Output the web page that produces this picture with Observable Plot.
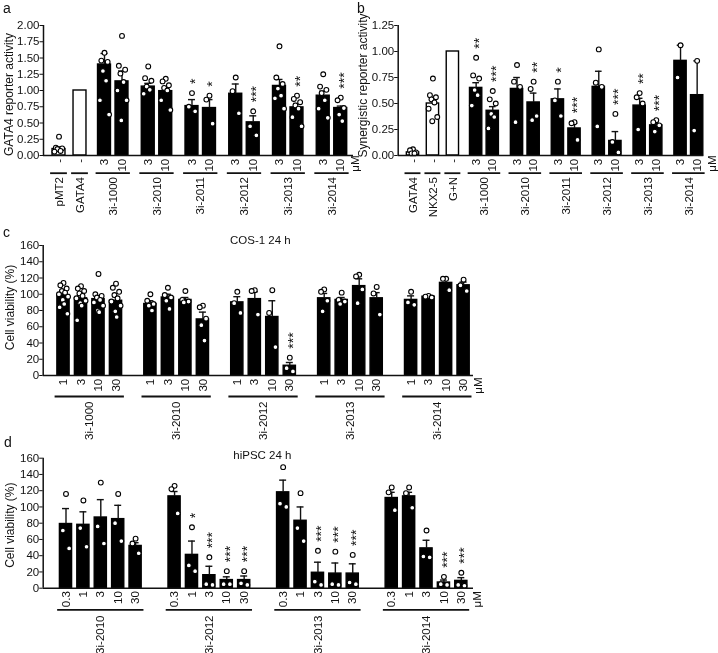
<!DOCTYPE html>
<html>
<head>
<meta charset="utf-8">
<script src="https://cdn.jsdelivr.net/npm/d3@7"></script>
<script src="https://cdn.jsdelivr.net/npm/@observablehq/plot@0.6"></script>
<style>
  body { margin: 0; background: #fff; }
  /* the figure is monochrome; keep the text antialiasing grey as well */
  #fig { position: relative; width: 718px; height: 653px; overflow: hidden; filter: grayscale(1);
         font-family: "Liberation Sans", Arial, sans-serif; color: #111; }
</style>
</head>
<body>
<div id="fig"></div>
<script>
// ---------- a: GATA4 reporter activity ----------
const aGroups = ["pMT2", "GATA4", "3i-1000", "3i-2010", "3i-2011", "3i-2012", "3i-2013", "3i-2014"];
const aDoses = [["-"], ["-"], ["3", "10"], ["3", "10"], ["3", "10"], ["3", "10"], ["3", "10"], ["3", "10"]];
const aMeans = [[0.10], [1.00], [1.40, 1.14], [1.06, 0.99], [0.76, 0.73], [0.95, 0.51], [1.07, 0.74], [0.92, 0.73]];
const aSem = [[0.03], [0], [0.17, 0.16], [0.05, 0.05], [0.10, 0.13], [0.15, 0.10], [0.10, 0.06], [0.07, 0.03]];
const aPoints = [
  [[0.29, 0.12, 0.11, 0.10, 0.07, 0.06]],
  [[]],
  [[1.58, 1.46, 1.44, 1.30, 1.15, 0.85, 0.63], [1.84, 1.38, 1.32, 1.26, 1.13, 1.00, 0.85, 0.54]],
  [[1.37, 1.19, 1.15, 1.06, 1.01, 0.95], [1.18, 1.14, 1.08, 1.04, 1.00, 0.85, 0.70]],
  [[0.96, 0.75, 0.68], [0.92, 0.86, 0.49]],
  [[1.20, 0.99, 0.65], [0.68, 0.45, 0.31]],
  [[1.68, 1.20, 1.10, 1.03, 0.92, 0.88, 0.72], [0.92, 0.87, 0.82, 0.77, 0.72, 0.59, 0.45]],
  [[1.25, 1.06, 1.01, 0.96, 0.85, 0.72, 0.58], [0.89, 0.85, 0.73, 0.63, 0.53]]
];
const aStars = [[""], [""], ["", ""], ["", ""], ["*", "*"], ["", "***"], ["", "**"], ["", "***"]];
const aTicks = [0, 0.25, 0.5, 0.75, 1, 1.25, 1.5, 1.75, 2];

// ---------- b: synergistic GATA4 + NKX2-5 reporter activity ----------
const bGroups = ["GATA4", "NKX2-5", "G+N", "3i-1000", "3i-2010", "3i-2011", "3i-2012", "3i-2013", "3i-2014"];
const bDoses = [["-"], ["-"], ["-"], ["3", "10"], ["3", "10"], ["3", "10"], ["3", "10"], ["3", "10"], ["3", "10"]];
const bMeans = [[0.03], [0.50], [1.00], [0.65, 0.43], [0.64, 0.51], [0.54, 0.26], [0.66, 0.14], [0.48, 0.29], [0.91, 0.58]];
const bSem = [[0.01], [0.04], [0], [0.05, 0.04], [0.11, 0.09], [0.10, 0.05], [0.15, 0.09], [0.07, 0.02], [0.15, 0.33]];
const bPoints = [
  [[0.06, 0.05, 0.03, 0.02, 0.02]],
  [[0.74, 0.58, 0.56, 0.54, 0.51, 0.45, 0.37, 0.33]],
  [[]],
  [[0.94, 0.77, 0.74, 0.63, 0.58, 0.48], [0.62, 0.54, 0.50, 0.40, 0.37, 0.26]],
  [[0.87, 0.71, 0.66, 0.32], [0.71, 0.64, 0.38, 0.34]],
  [[0.71, 0.53, 0.38], [0.32, 0.31, 0.15]],
  [[1.02, 0.70, 0.66, 0.28], [0.40, 0.13, 0.03]],
  [[0.60, 0.56, 0.50, 0.25], [0.34, 0.32, 0.29, 0.23]],
  [[1.06, 0.75], [0.91, 0.24]]
];
const bStars = [[""], [""], [""], ["**", "***"], ["", "**"], ["*", "***"], ["", "***"], ["**", "***"], ["", ""]];
const bTicks = [0, 0.25, 0.5, 0.75, 1, 1.25];

// ---------- c: COS-1 cell viability, 24 h ----------
const cGroups = ["3i-1000", "3i-2010", "3i-2012", "3i-2013", "3i-2014"];
const cDoseSet = ["1", "3", "10", "30"];
const cMeans = [[99, 95, 94, 92], [88, 96, 93, 69], [90, 94, 72, 12], [95, 93, 110, 95], [93, 97, 114, 111]];
const cSem = [[3, 4, 4, 5], [4, 4, 3, 9], [7, 9, 20, 4], [6, 3, 9, 7], [5, 1, 5, 4]];
const cPoints = [
  [[114, 111, 107, 104, 102, 100, 97, 93, 88, 84, 76], [110, 107, 104, 101, 98, 95, 92, 89, 86, 68],
   [125, 100, 98, 96, 93, 90, 86, 80, 78], [113, 108, 103, 99, 95, 91, 86, 79, 72]],
  [[100, 92, 88, 86, 80], [108, 99, 96, 92, 82], [104, 93, 91, 90], [86, 84, 70, 62, 43]],
  [[103, 89, 77], [105, 104, 75], [105, 77, 35], [22, 9, 5]],
  [[106, 103, 92, 79], [102, 93, 91, 88], [124, 122, 106, 89], [109, 101, 75]],
  [[103, 90, 87], [98, 97, 96], [119, 119, 105], [118, 111, 104]]
];
const cStars = [["", "", "", ""], ["", "", "", ""], ["", "", "", "***"], ["", "", "", ""], ["", "", "", ""]];

// ---------- d: hiPSC cell viability, 24 h ----------
const dGroups = ["3i-2010", "3i-2012", "3i-2013", "3i-2014"];
const dDoseSet = ["0.3", "1", "3", "10", "30"];
const dMeans = [[79, 78, 87, 85, 52], [113, 41, 16, 10, 10], [118, 83, 19, 18, 18], [111, 113, 49, 7, 9]];
const dSem = [[19, 16, 22, 17, 4], [6, 17, 11, 4, 5], [15, 17, 13, 13, 12], [7, 5, 10, 3, 4]];
const dPoints = [
  [[116, 71, 49], [108, 74, 51], [130, 76, 55], [116, 80, 58], [61, 55, 43]],
  [[126, 122, 92], [75, 28, 21], [38, 5, 4], [21, 5, 5], [21, 6, 4]],
  [[149, 104, 100], [117, 74, 58], [46, 8, 4], [45, 5, 4], [41, 7, 5]],
  [[124, 118, 96], [124, 117, 99], [71, 39, 38], [14, 5, 4], [19, 4, 3]]
];
const dStars = [["", "", "", "", ""], ["", "*", "***", "***", "***"], ["", "", "***", "***", "***"], ["", "", "", "***", "***"]];
const viabilityTicks = [0, 20, 40, 60, 80, 100, 120, 140, 160];

// horizontal offsets (in bar steps) for the replicate dots of one bar
const spread = [0, -0.18, 0.18, -0.09, 0.09, -0.26, 0.26, -0.04, 0.04, -0.22, 0.22, -0.13, 0.13];

// Lay the bars out along x: one step per bar, an extra gap between groups.
function build(groups, doses, means, sem, points, stars, nControls, gaps) {
  const bars = [], dots = [], spans = [];
  let cursor = 0;
  groups.forEach((name, gi) => {
    if (gi > 0) cursor += 1 + (gi < nControls ? gaps.control : gi === nControls ? gaps.first : gaps.group);
    const first = cursor;
    doses[gi].forEach((dose, di) => {
      if (di > 0) cursor += 1;
      const pos = cursor;
      const pts = points[gi][di];
      const mean = means[gi][di], err = sem[gi][di];
      bars.push({group: name, dose, pos, mean, err, open: gi < nControls,
                 star: stars[gi][di], peak: Math.max(mean + err, ...pts)});
      [...pts].sort((p, q) => q - p)
        .forEach((v, k) => dots.push({x: pos + spread[k % spread.length], value: v}));
    });
    spans.push({name, first, last: cursor});
  });
  return {bars, dots, spans};
}

const fig = document.getElementById("fig");
const FONT = "Liberation Sans, Arial, Helvetica, sans-serif";

function panel(cfg) {
  const {bars, dots, spans} = cfg.data;
  const bw = cfg.barWidth, cap = 0.2, half = 0.48, sw = 1.4;
  const [, ymax] = cfg.yDomain;
  const xmin = cfg.xDomain[0];
  const marks = [
    Plot.rectY(bars, {x1: d => d.pos - bw / 2, x2: d => d.pos + bw / 2, y1: 0, y2: "mean",
                      fill: d => d.open ? "white" : "black", stroke: "black", strokeWidth: sw}),
    Plot.ruleX(bars.filter(d => d.err > 0), {x: "pos", y1: "mean", y2: d => d.mean + d.err, strokeWidth: sw}),
    Plot.ruleY(bars.filter(d => d.err > 0), {y: d => d.mean + d.err, x1: d => d.pos - cap, x2: d => d.pos + cap, strokeWidth: sw}),
    Plot.dot(dots, {x: "x", y: "value", r: 2.4, fill: "white", stroke: "black", strokeWidth: 1.1}),
    // significance marks, stacked upward above the highest replicate
    Plot.text(bars.filter(d => d.star), {x: "pos", y: "peak", text: "star", rotate: -90, textAnchor: "start",
                                         lineAnchor: "middle", fontSize: 14, dx: 3.5, dy: -9, fill: "#111"}),
    Plot.ruleY([0], {strokeWidth: 1.6}),
    Plot.ruleX([xmin], {y1: 0, y2: ymax, strokeWidth: 1.5}),
    Plot.text(bars, {x: "pos", y: 0, text: "dose", rotate: -90, textAnchor: "end", lineAnchor: "middle", dy: cfg.doseDy}),
    Plot.ruleY(spans, {y: 0, x1: d => d.first - half, x2: d => d.last + half, dy: cfg.lineDy, strokeWidth: 1.8}),
    Plot.text(spans, {x: d => (d.first + d.last) / 2, y: 0, text: "name", rotate: -90, textAnchor: "end",
                      lineAnchor: "middle", dy: cfg.nameDy}),
    Plot.text(["μM"], {text: d => d, frameAnchor: "bottom-right", rotate: -90, textAnchor: "end",
                       lineAnchor: "middle", dx: cfg.unitDx, dy: cfg.unitDy}),
    Plot.text([cfg.yLabel], {text: d => d, frameAnchor: "left", rotate: -90, textAnchor: "middle",
                             lineAnchor: "middle", fontSize: 12, dx: cfg.labelDx, dy: cfg.labelDy})
  ];
  if (cfg.title) marks.push(Plot.text([cfg.title], {text: d => d, frameAnchor: "top", textAnchor: "middle",
                                                    lineAnchor: "middle", dx: cfg.titleDx, dy: cfg.titleDy}));
  const svg = Plot.plot({
    width: cfg.width, height: cfg.height,
    marginTop: cfg.margin[0], marginRight: cfg.margin[1], marginBottom: cfg.margin[2], marginLeft: cfg.margin[3],
    x: {domain: cfg.xDomain, axis: null},
    y: {domain: cfg.yDomain, ticks: cfg.ticks, tickFormat: cfg.tickFormat, tickSize: 3.5, tickPadding: 0.5, label: null},
    style: {background: "transparent", fontFamily: FONT, fontSize: "11.5px", color: "#111", overflow: "visible"},
    marks
  });
  svg.style.position = "absolute";
  svg.style.left = cfg.left + "px";
  svg.style.top = cfg.top + "px";
  fig.appendChild(svg);
}

panel({
  data: build(aGroups, aDoses, aMeans, aSem, aPoints, aStars, 2, {control: 0.2, first: 0.4, group: 0.5}),
  left: 0, top: 0, width: 365, height: 225, margin: [25, 12, 70, 43],
  xDomain: [-0.886, 16.83], yDomain: [0, 2], ticks: aTicks, tickFormat: ".2f", barWidth: 0.74,
  doseDy: 3.3, lineDy: 17.7, nameDy: 21.5, unitDx: 2, unitDy: 0,
  yLabel: "GATA4 reporter activity", labelDx: -34, labelDy: 4
});

panel({
  data: build(bGroups, bDoses, bMeans, bSem, bPoints, bStars, 3, {control: 0.2, first: 0.4, group: 0.46}),
  left: 355, top: 0, width: 363, height: 225, margin: [25, 14.7, 70, 42.7],
  xDomain: [-0.89, 17.5], yDomain: [0, 1.25], ticks: bTicks, tickFormat: ".2f", barWidth: 0.74,
  doseDy: 3.3, lineDy: 17.7, nameDy: 21.5, unitDx: 8.5, unitDy: 0,
  yLabel: "Synergistic reporter activity", labelDx: -34.7, labelDy: -5
});

panel({
  data: build(cGroups, cGroups.map(() => cDoseSet), cMeans, cSem, cPoints, cStars, 0, {group: 0.966}),
  left: 0, top: 225, width: 490, height: 215, margin: [20, 17, 65, 42.7],
  xDomain: [-1.16, 23.43], yDomain: [0, 160], ticks: viabilityTicks, tickFormat: "d", barWidth: 0.7,
  doseDy: 3.3, lineDy: 21, nameDy: 26, unitDx: 5, unitDy: 2,
  yLabel: "Cell viability (%)", labelDx: -33, labelDy: -3,
  title: "COS-1 24 h", titleDx: 2, titleDy: -5
});

panel({
  data: build(dGroups, dGroups.map(() => dDoseSet), dMeans, dSem, dPoints, dStars, 0, {group: 1.24}),
  left: 0, top: 440, width: 490, height: 213, margin: [17.7, 17, 65.3, 42.7],
  xDomain: [-1.31, 23.42], yDomain: [0, 160], ticks: viabilityTicks, tickFormat: "d", barWidth: 0.7,
  doseDy: 3, lineDy: 21.6, nameDy: 27.3, unitDx: 4, unitDy: 3,
  yLabel: "Cell viability (%)", labelDx: -33, labelDy: 2,
  title: "hiPSC 24 h", titleDx: 4, titleDy: -2.7
});

// panel letters
const letters = d3.select(fig).append("svg")
  .attr("width", 718).attr("height", 653)
  .style("position", "absolute").style("left", "0px").style("top", "0px")
  .style("pointer-events", "none")
  .attr("font-family", FONT).attr("font-size", 14).attr("fill", "#111");
letters.selectAll("text")
  .data([{t: "a", x: 3, y: 13}, {t: "b", x: 357, y: 13}, {t: "c", x: 3, y: 237}, {t: "d", x: 4, y: 447}])
  .join("text").attr("x", d => d.x).attr("y", d => d.y).text(d => d.t);
</script>
</body>
</html>
